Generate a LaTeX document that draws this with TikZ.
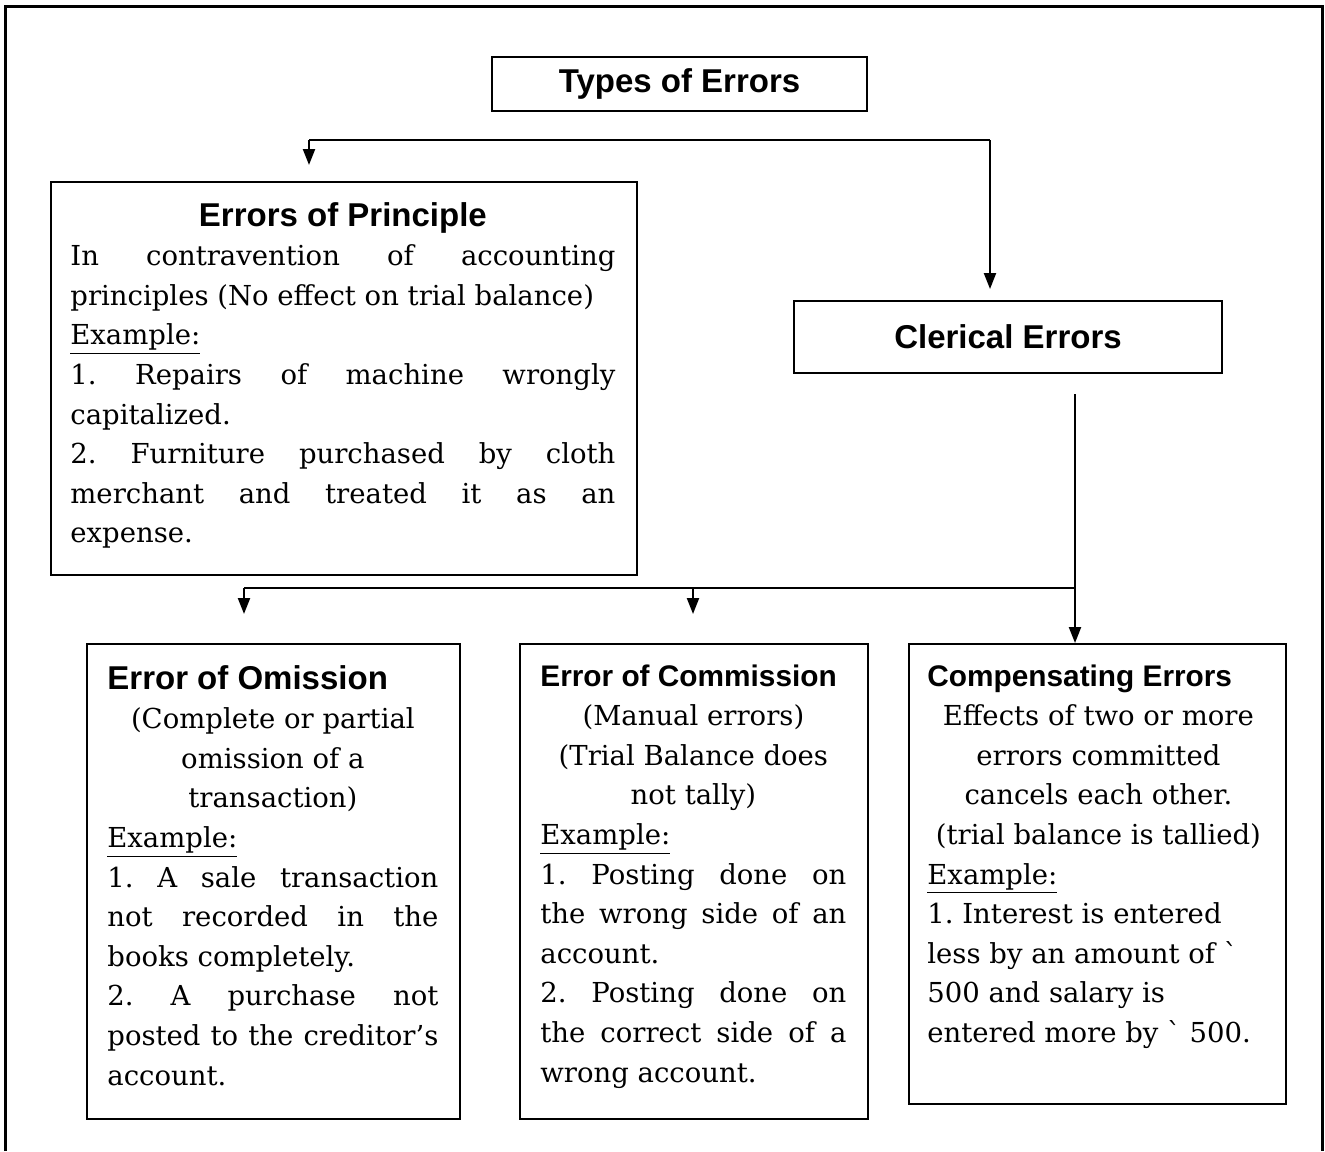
\documentclass[tikz,border=0pt]{standalone}
\usepackage{fontspec}
\setmainfont{DejaVu Serif}
\newfontfamily\headfam{Liberation Sans}
\usepackage{tikz}
\usetikzlibrary{arrows.meta}
\usetikzlibrary{calc}

\newcommand{\headA}{\headfam\bfseries\fontsize{16.5}{19.8}\selectfont}
\newcommand{\headB}{\headfam\bfseries\fontsize{14.9}{19.8}\selectfont}
\newcommand{\bodyfont}{\fontsize{13.75}{19.8}\selectfont\frenchspacing}

\tikzset{
  box/.style={draw,line width=1pt,inner sep=0pt},
  txt/.style={inner sep=0pt,align=justify,font=\bodyfont,anchor=base west},
  link/.style={line width=1.1pt},
  arrowline/.style={link,-{Triangle[length=8pt,width=6pt]}},
  frame/.style={line width=1.5pt}
}

\begin{document}
\begin{tikzpicture}[x=0.5pt,y=-0.5pt]
\useasboundingbox (0,0) rectangle (1325,1151);
\draw[frame] (5,1151) -- (5,6) -- (1322,6) -- (1322,1151);
\draw (679.5,84) node (types) [box,minimum width=187.5pt,minimum height=27pt] {\headA Types of Errors};
\draw (50,181) node (prin) [box,anchor=north west,minimum width=293pt,minimum height=196.5pt] {};
\draw (1008,337) node (cler) [box,minimum width=214pt,minimum height=36pt] {\headA Clerical Errors};
\draw (86,643) node (omis) [box,anchor=north west,minimum width=186.5pt,minimum height=237.5pt] {};
\draw (519,643) node (comm) [box,anchor=north west,minimum width=174pt,minimum height=237.5pt] {};
\draw (908,643) node (comp) [box,anchor=north west,minimum width=188.5pt,minimum height=230pt] {};
% box texts
\draw (70,226) node (prin-txt) [txt,text width=272.5pt] {\parindent=0pt
{\centering\headA Errors of Principle\par}
In contravention of accounting\linebreak principles (No effect on trial balance)\par
\underline{Example:}\par
1. Repairs of machine wrongly\linebreak capitalized.\par
2. Furniture purchased by cloth\linebreak merchant and treated it as an\linebreak expense.};
\draw (107,689) node (omis-txt) [txt,text width=165.5pt] {\parindent=0pt
{\headA Error of Omission\par}
{\centering (Complete or partial\par omission of a\par transaction)\par}
\underline{Example:}\par
1. A sale transaction\linebreak not recorded in the\linebreak books completely.\par
2. A purchase not\linebreak posted to the creditor’s\linebreak account.};
\draw (540,686) node (comm-txt) [txt,text width=153pt] {\parindent=0pt
{\headB Error of Commission\par}
{\centering (Manual errors)\par (Trial Balance does\par not tally)\par}
\underline{Example:}\par
1. Posting done on\linebreak the wrong side of an\linebreak account.\par
2. Posting done on\linebreak the correct side of a\linebreak wrong account.};
\draw (927,686) node (comp-txt) [txt,text width=171pt] {\parindent=0pt
{\headB Compensating Errors\par}
{\centering Effects of two or more\par errors committed\par cancels each other.\par (trial balance is tallied)\par}
\underline{Example:}\par
1. Interest is entered\par
less by an amount of \textasciigrave\par
500 and salary is\par
entered more by \textasciigrave{} 500.};
% connectors
\coordinate (bus1w) at (309,140);
\coordinate (bus1e) at (990,140);
\draw[link] (bus1w) -- (bus1e);
\draw[arrowline,shorten >=8pt] (bus1w) -- (bus1w |- prin.north);
\draw[arrowline,shorten >=5.5pt] (bus1e) -- (bus1e |- cler.north);
\coordinate (bus2w) at (244,588);
\coordinate (bus2m) at (693,588);
\coordinate (bus2e) at (1075,588);
\draw[arrowline,shorten <=10pt] (cler.south -| bus2e) -- (comp.north -| bus2e);
\draw[link] (bus2e) -- (bus2w);
\draw[arrowline,shorten >=14.5pt] (bus2w) -- (bus2w |- omis.north);
\draw[arrowline,shorten >=14.5pt] (bus2m) -- (bus2m |- comm.north);
\end{tikzpicture}
\end{document}
